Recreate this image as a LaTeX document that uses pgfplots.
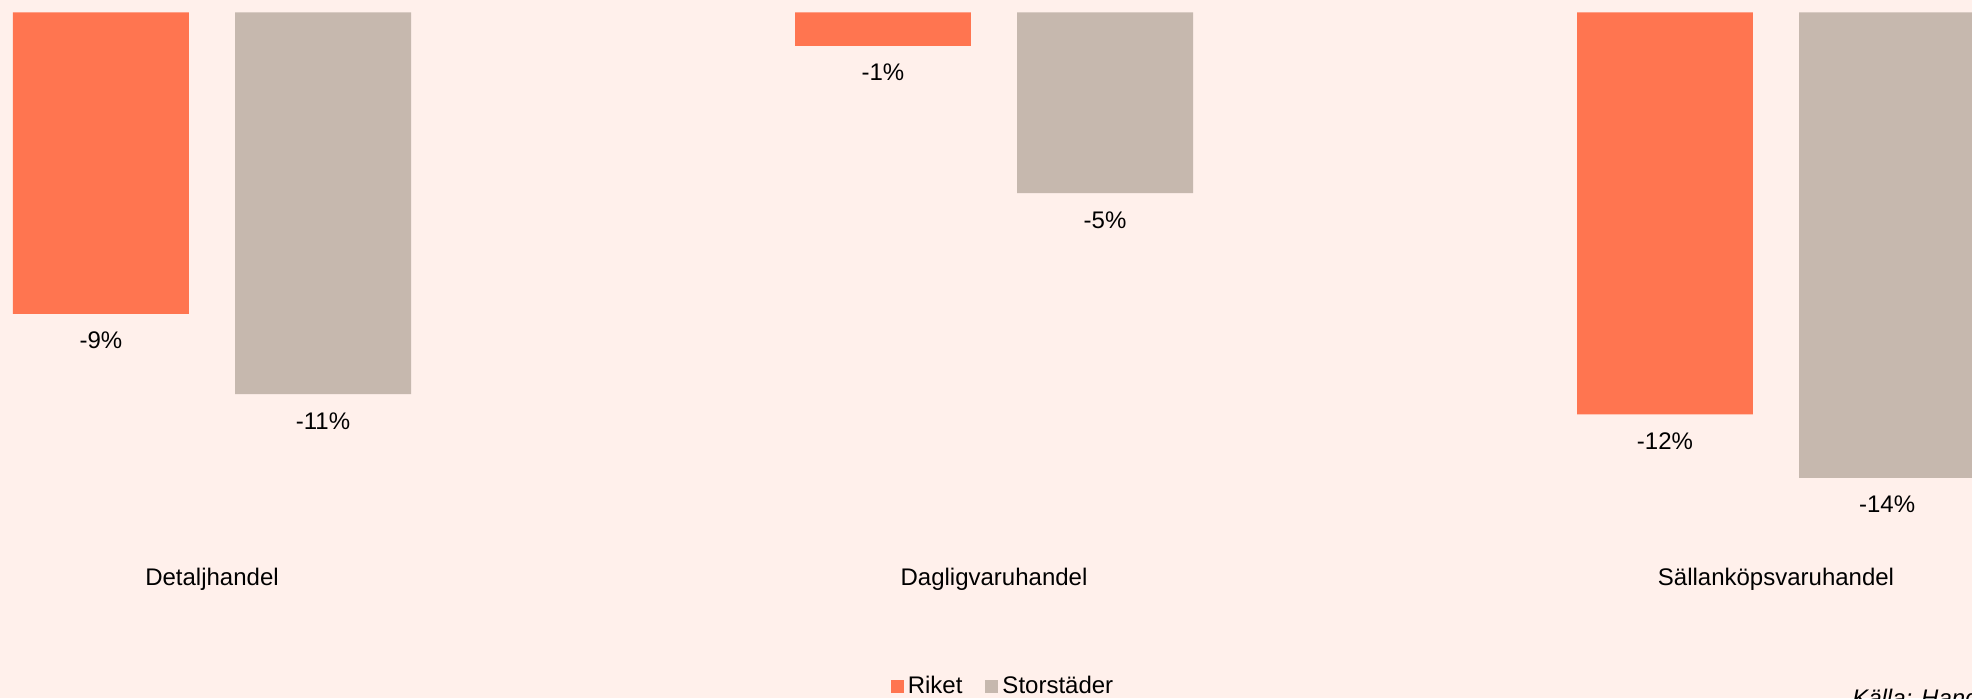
\documentclass[border=0pt]{standalone}
\usepackage{pgfplots}
\pgfplotsset{compat=1.18}
\usepackage{pgfplotstable}
\usepackage{fontspec}
\setmainfont{Liberation Sans}
\definecolor{bg}{RGB}{255,240,235}
\definecolor{riket}{RGB}{255,117,80}
\definecolor{stor}{RGB}{198,184,174}

\pgfplotstableread{
x y
0 -9.0
1 -1.0
2 -12.0
}\riket
\pgfplotstableread{
x y
0 -11.4
1 -5.4
2 -13.9
}\stor

\begin{document}
\fontsize{12}{14.4}\selectfont
\begin{tikzpicture}
\path[use as bounding box, fill=bg] (0,0) rectangle (986pt,349pt);
\clip (0,0) rectangle (986pt,349pt);
\begin{axis}[
  at={(0pt,0pt)}, anchor=south west,
  scale only axis, width=986pt, height=349pt,
  xmin=-0.2711, xmax=2.2506, ymin=-20.47, ymax=0.367,
  axis line style={draw=none},
  ytick=\empty,
  xtick={0,1,2},
  xticklabels={Detaljhandel,Dagligvaruhandel,Sällanköpsvaruhandel},
  major tick length=0pt,
  xticklabel style={anchor=base, yshift=56.3pt, font=\fontsize{12}{14.4}\selectfont},
  ybar, bar width=0.225,
  nodes near coords={\pgfmathprintnumber[fixed,precision=0,assume math mode=true]{\pgfplotspointmeta}\%},
  every node near coord/.append style={font=\fontsize{12}{14.4}\selectfont, yshift=-5pt},
  legend columns=2,
  legend style={draw=none, fill=none, at={(axis cs:1.0115,-20.14)}, anchor=center,
    font=\fontsize{12}{14.4}\selectfont,
    nodes={inner xsep=1pt},
    /tikz/every odd column/.append style={column sep=1pt},
    /tikz/every even column/.append style={column sep=10.5pt}},
  legend image code/.code={\fill[#1] (0pt,-3.25pt) rectangle (6.5pt,3.25pt);},
  clip=false,
]
\addplot[fill=riket, draw=none, bar shift=-0.142] table[x=x,y=y]{\riket};
\addlegendentry{Riket}
\addplot[fill=stor, draw=none, bar shift=0.142] table[x=x,y=y]{\stor};
\addlegendentry{Storstäder}
\node[anchor=north west, inner sep=0pt, font=\fontsize{12}{14.4}\selectfont\itshape] at (axis cs:2.097,-20.2) {Källa: Handelns Utredningsinstitut};
\end{axis}
\end{tikzpicture}
\end{document}
